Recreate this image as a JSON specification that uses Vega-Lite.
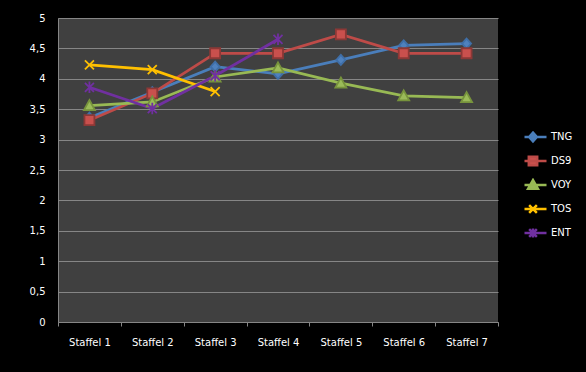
{
  "$schema": "https://vega.github.io/schema/vega-lite/v6.json",
  "width": 440,
  "height": 304,
  "autosize": {"type": "none"},
  "padding": {"left": 58, "top": 18, "right": 88, "bottom": 50},
  "background": "#000000",
  "config": {
    "view": {"fill": "#404040", "stroke": null},
    "font": "DejaVu Sans",
    "axis": {
      "labelFont": "DejaVu Sans",
      "labelFontSize": 10,
      "labelColor": "#ffffff",
      "domainColor": "#868686",
      "tickColor": "#868686",
      "gridColor": "#868686",
      "gridOpacity": 1,
      "title": null
    }
  },
  "data": {
    "values": [
      {"staffel": "Staffel 1", "serie": "TNG", "wert": 3.36},
      {"staffel": "Staffel 2", "serie": "TNG", "wert": 3.78},
      {"staffel": "Staffel 3", "serie": "TNG", "wert": 4.2},
      {"staffel": "Staffel 4", "serie": "TNG", "wert": 4.08},
      {"staffel": "Staffel 5", "serie": "TNG", "wert": 4.31},
      {"staffel": "Staffel 6", "serie": "TNG", "wert": 4.55},
      {"staffel": "Staffel 7", "serie": "TNG", "wert": 4.58},
      {"staffel": "Staffel 1", "serie": "DS9", "wert": 3.32},
      {"staffel": "Staffel 2", "serie": "DS9", "wert": 3.76},
      {"staffel": "Staffel 3", "serie": "DS9", "wert": 4.42},
      {"staffel": "Staffel 4", "serie": "DS9", "wert": 4.42},
      {"staffel": "Staffel 5", "serie": "DS9", "wert": 4.73},
      {"staffel": "Staffel 6", "serie": "DS9", "wert": 4.42},
      {"staffel": "Staffel 7", "serie": "DS9", "wert": 4.42},
      {"staffel": "Staffel 1", "serie": "VOY", "wert": 3.56},
      {"staffel": "Staffel 2", "serie": "VOY", "wert": 3.62},
      {"staffel": "Staffel 3", "serie": "VOY", "wert": 4.03},
      {"staffel": "Staffel 4", "serie": "VOY", "wert": 4.18},
      {"staffel": "Staffel 5", "serie": "VOY", "wert": 3.93},
      {"staffel": "Staffel 6", "serie": "VOY", "wert": 3.72},
      {"staffel": "Staffel 7", "serie": "VOY", "wert": 3.69},
      {"staffel": "Staffel 1", "serie": "TOS", "wert": 4.23},
      {"staffel": "Staffel 2", "serie": "TOS", "wert": 4.15},
      {"staffel": "Staffel 3", "serie": "TOS", "wert": 3.79},
      {"staffel": "Staffel 1", "serie": "ENT", "wert": 3.86},
      {"staffel": "Staffel 2", "serie": "ENT", "wert": 3.51},
      {"staffel": "Staffel 3", "serie": "ENT", "wert": 4.05},
      {"staffel": "Staffel 4", "serie": "ENT", "wert": 4.65}
    ]
  },
  "encoding": {
    "x": {
      "field": "staffel",
      "type": "ordinal",
      "scale": {"type": "band", "paddingInner": 0, "paddingOuter": 0,
        "domain": ["Staffel 1", "Staffel 2", "Staffel 3", "Staffel 4", "Staffel 5", "Staffel 6", "Staffel 7"]},
      "axis": {"labelAngle": 0, "tickBand": "extent", "tickSize": 4, "labelPadding": 11, "grid": false}
    },
    "y": {
      "field": "wert",
      "type": "quantitative",
      "scale": {"domain": [0, 5], "nice": false},
      "axis": {
        "values": [0, 0.5, 1, 1.5, 2, 2.5, 3, 3.5, 4, 4.5, 5],
        "format": ".1~f",
        "labelExpr": "replace(datum.label, '.', ',')",
        "ticks": false,
        "labelPadding": 13,
        "grid": true
      }
    }
  },
  "layer": [
    {
      "mark": {"type": "line", "strokeWidth": 2.75},
      "encoding": {
        "color": {
          "field": "serie", "type": "nominal",
          "scale": {"domain": ["TNG", "DS9", "VOY", "TOS", "ENT"],
            "range": ["#4a7ebb", "#be4b48", "#98b954", "#ffc000", "#7030a0"]},
          "legend": null
        }
      }
    },
    {
      "mark": {"type": "point", "filled": true, "opacity": 1, "size": 100, "strokeWidth": 1.8},
      "encoding": {
        "fill": {
          "field": "serie", "type": "nominal",
          "scale": {"domain": ["TNG", "DS9", "VOY", "TOS", "ENT"],
            "range": ["#4f81bd", "#c9504d", "#9bbb59", "#ffc000", "#7030a0"]},
          "legend": null
        },
        "stroke": {
          "field": "serie", "type": "nominal",
          "scale": {"domain": ["TNG", "DS9", "VOY", "TOS", "ENT"],
            "range": ["#3f6fa8", "#8c3836", "#77933c", "#ffc000", "#7030a0"]},
          "legend": null
        },
        "shape": {
          "field": "serie", "type": "nominal",
          "scale": {"domain": ["TNG", "DS9", "VOY", "TOS", "ENT"],
            "range": [
              "M0,-1L0.9,0L0,1L-0.9,0Z",
              "M-1,-1H1V1H-1Z",
              "M0,-1.1L1.1,0.9H-1.1Z",
              "M-0.9,-0.9L0.9,0.9M-0.9,0.9L0.9,-0.9",
              "M-0.9,-0.9L0.9,0.9M-0.9,0.9L0.9,-0.9M0,-1.15V1.15"
            ]},
          "legend": null
        }
      }
    },
    {
      "transform": [{"filter": "datum.wert > 10"}],
      "mark": {"type": "point", "filled": true, "opacity": 1},
      "encoding": {
        "fill": {
          "field": "serie", "type": "nominal",
          "scale": {"domain": ["TNG", "DS9", "VOY", "TOS", "ENT"],
            "range": ["#4f81bd", "#c9504d", "#9bbb59", "#ffc000", "#7030a0"]},
          "legend": {"title": null, "orient": "none", "legendX": 466.5, "legendY": 112, "padding": 0,
            "symbolSize": 196, "symbolStrokeWidth": 2.5, "symbolOpacity": 1, "clipHeight": 14,
            "labelFont": "DejaVu Sans", "labelFontSize": 10, "labelColor": "#ffffff",
            "labelOffset": 9.5, "rowPadding": 10}
        },
        "stroke": {
          "field": "serie", "type": "nominal",
          "scale": {"domain": ["TNG", "DS9", "VOY", "TOS", "ENT"],
            "range": ["#4a7ebb", "#be4b48", "#98b954", "#ffc000", "#7030a0"]},
          "legend": {"title": null, "orient": "none", "legendX": 466.5, "legendY": 112, "padding": 0,
            "symbolSize": 196, "symbolStrokeWidth": 2.5, "symbolOpacity": 1, "clipHeight": 14,
            "labelFont": "DejaVu Sans", "labelFontSize": 10, "labelColor": "#ffffff",
            "labelOffset": 9.5, "rowPadding": 10}
        },
        "shape": {
          "field": "serie", "type": "nominal",
          "scale": {"domain": ["TNG", "DS9", "VOY", "TOS", "ENT"],
            "range": [
              "M-1.93,0H1.93M0,-0.62L0.55,0L0,0.62L-0.55,0Z",
              "M-1.93,0H1.93M-0.6,-0.6H0.6V0.6H-0.6Z",
              "M-1.93,0H1.93M0,-0.7L0.7,0.55H-0.7Z",
              "M-1.93,0H1.93M-0.55,-0.55L0.55,0.55M-0.55,0.55L0.55,-0.55",
              "M-1.93,0H1.93M-0.55,-0.55L0.55,0.55M-0.55,0.55L0.55,-0.55M0,-0.65V0.65"
            ]},
          "legend": {"title": null, "orient": "none", "legendX": 466.5, "legendY": 112, "padding": 0,
            "symbolSize": 196, "symbolStrokeWidth": 2.5, "symbolOpacity": 1, "clipHeight": 14,
            "labelFont": "DejaVu Sans", "labelFontSize": 10, "labelColor": "#ffffff",
            "labelOffset": 9.5, "rowPadding": 10}
        }
      }
    }
  ],
  "resolve": {
    "scale": {"color": "independent", "fill": "independent", "stroke": "independent", "shape": "independent"}
  }
}
